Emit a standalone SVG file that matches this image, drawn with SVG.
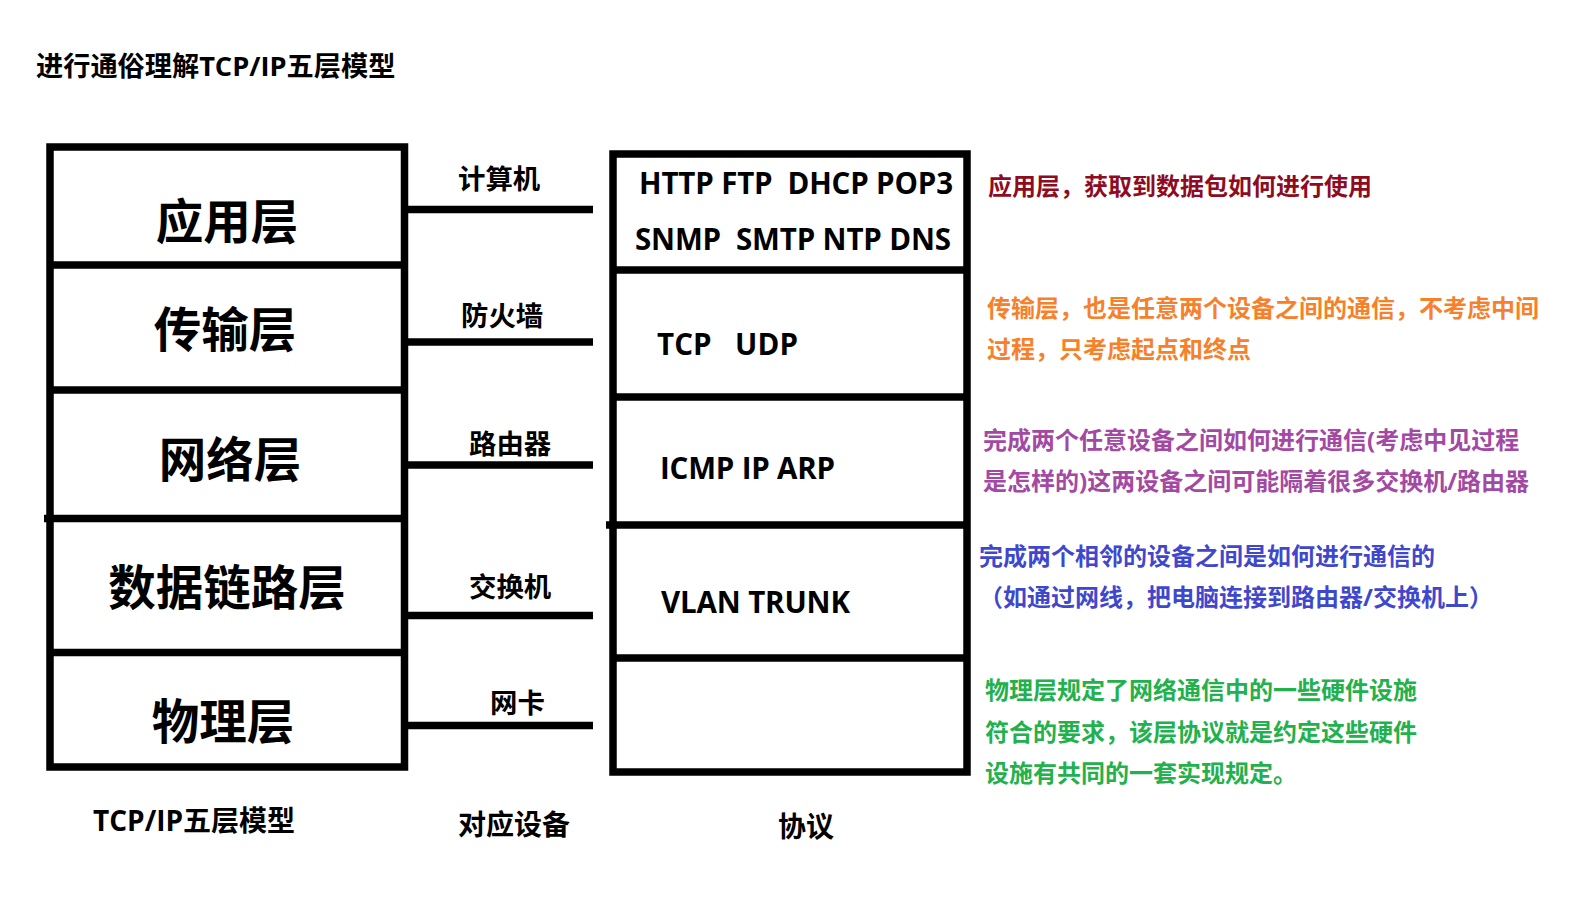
<svg xmlns="http://www.w3.org/2000/svg" width="1581" height="898" viewBox="0 0 1581 898">
<style>
text{font-family:"Open Sans","Noto Sans CJK SC",sans-serif;font-weight:bold;dominant-baseline:central}
.box{fill:none;stroke:#000;stroke-width:7.5}
.ln{stroke:#000;stroke-width:7.5;fill:none}
.big{font-size:47.5px;text-anchor:middle}
.dev{font-size:27.4px}
.cap{font-size:28px}
.pro{font-size:29.5px}
.d{font-size:24px}
</style>
<rect width="1581" height="898" fill="#fff"/>
<text id="title" x="36" y="65" font-size="27.2">进行通俗理解TCP/IP五层模型</text>

<g id="layers">
  <rect class="box" x="50" y="147" width="354.5" height="620"/>
  <line class="ln" x1="50" y1="265" x2="404.5" y2="265"/>
  <line class="ln" x1="50" y1="390" x2="404.5" y2="390"/>
  <line class="ln" x1="44" y1="518.5" x2="404.5" y2="518.5"/>
  <line class="ln" x1="50" y1="652.5" x2="404.5" y2="652.5"/>
</g>
<g id="layer-app"><text class="big" x="227" y="220">应用层</text></g>
<g id="layer-transport"><text class="big" x="225" y="328">传输层</text></g>
<g id="layer-network"><text class="big" x="230" y="458">网络层</text></g>
<g id="layer-datalink"><text class="big" x="227" y="586">数据链路层</text></g>
<g id="layer-physical"><text class="big" x="223" y="720">物理层</text></g>

<g id="connectors">
  <line class="ln" x1="404" y1="209.5" x2="593" y2="209.5"/>
  <line class="ln" x1="404" y1="342" x2="593" y2="342"/>
  <line class="ln" x1="404" y1="465" x2="593" y2="465"/>
  <line class="ln" x1="404" y1="615.5" x2="593" y2="615.5"/>
  <line class="ln" x1="404" y1="725.5" x2="593" y2="725.5"/>
</g>

<g id="devices">
  <text class="dev" x="458" y="178">计算机</text>
  <text class="dev" x="461" y="315">防火墙</text>
  <text class="dev" x="469" y="443">路由器</text>
  <text class="dev" x="469" y="586">交换机</text>
  <text class="dev" x="490" y="702">网卡</text>
</g>

<g id="protocols">
  <rect class="box" x="613" y="154" width="354" height="618"/>
  <line class="ln" x1="613" y1="270" x2="967" y2="270"/>
  <line class="ln" x1="613" y1="397" x2="967" y2="397"/>
  <line class="ln" x1="606" y1="525" x2="967" y2="525"/>
  <line class="ln" x1="613" y1="658" x2="967" y2="658"/>
</g>
<g id="proto-app">
  <text class="pro" x="639" y="182" textLength="314" xml:space="preserve">HTTP FTP  DHCP POP3</text>
  <text class="pro" x="635" y="238" textLength="316" xml:space="preserve">SNMP  SMTP NTP DNS</text>
</g>
<g id="proto-transport"><text class="pro" x="657" y="343" textLength="141" xml:space="preserve">TCP   UDP</text></g>
<g id="proto-network"><text class="pro" x="660" y="467" textLength="175">ICMP IP ARP</text></g>
<g id="proto-datalink"><text class="pro" x="661" y="601" textLength="189">VLAN TRUNK</text></g>

<g id="captions">
  <text class="cap" x="93" y="820">TCP/IP五层模型</text>
  <text class="cap" x="458" y="824">对应设备</text>
  <text class="cap" x="778" y="826">协议</text>
</g>

<g id="desc-app"><text class="d" x="988" y="185" fill="#8E0B22">应用层，获取到数据包如何进行使用</text></g>
<g id="desc-transport" fill="#F7802A">
  <text class="d" x="987" y="307">传输层，也是任意两个设备之间的通信，不考虑中间</text>
  <text class="d" x="987" y="348">过程，只考虑起点和终点</text>
</g>
<g id="desc-network" fill="#A349A4">
  <text class="d" x="983" y="439">完成两个任意设备之间如何进行通信(考虑中见过程</text>
  <text class="d" x="983" y="480">是怎样的)这两设备之间可能隔着很多交换机/路由器</text>
</g>
<g id="desc-datalink" fill="#3F48CC">
  <text class="d" x="979" y="555">完成两个相邻的设备之间是如何进行通信的</text>
  <text class="d" x="979" y="596">（如通过网线，把电脑连接到路由器/交换机上）</text>
</g>
<g id="desc-physical" fill="#22B14C">
  <text class="d" x="985" y="689">物理层规定了网络通信中的一些硬件设施</text>
  <text class="d" x="985" y="731">符合的要求，该层协议就是约定这些硬件</text>
  <text class="d" x="985" y="772">设施有共同的一套实现规定。</text>
</g>
</svg>
